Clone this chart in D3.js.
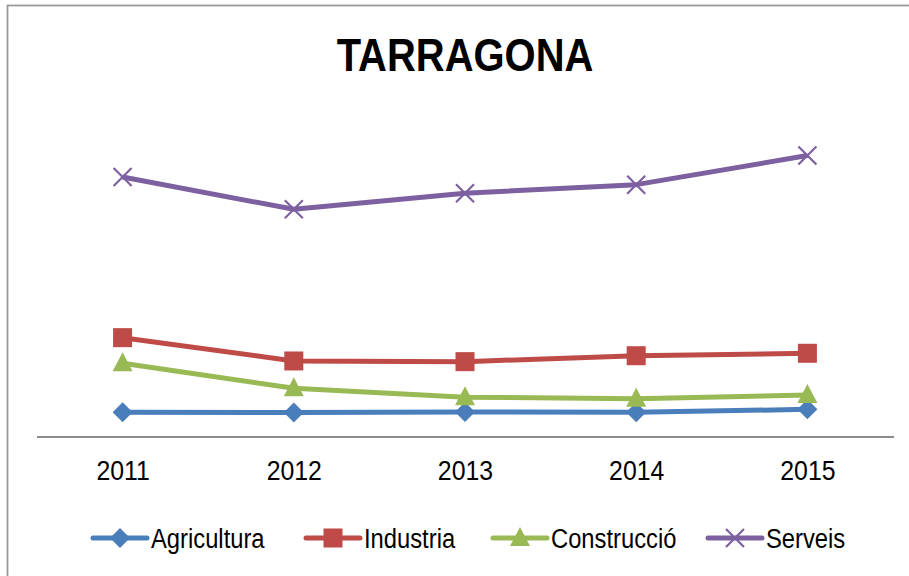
<!DOCTYPE html>
<html>
<head>
<meta charset="utf-8">
<script src="https://cdn.jsdelivr.net/npm/d3@7"></script>
<style>
  body { margin: 0; background: #fff; }
  text { font-family: "Liberation Sans Narrow", "Arial Narrow", "Liberation Sans", sans-serif; }
</style>
</head>
<body>
<div id="chart"></div>
<script>
const years = ["2011", "2012", "2013", "2014", "2015"];
const agricultura = [18.3, 18.1, 18.6, 18.3, 20.5];
const industria = [73.7, 56.4, 55.9, 60.3, 62.1];
const construccio = [54.7, 36.1, 29.5, 28.4, 31.2];
const serveis = [192.9, 168.9, 180.8, 187.2, 208.8];

const series = [
    { name: "Agricultura", values: agricultura, color: "#4A7EBB", symbol: "diamond" },
    { name: "Industria", values: industria, color: "#BE4B48", symbol: "square" },
    { name: "Construcció", values: construccio, color: "#98B954", symbol: "triangle" },
    { name: "Serveis", values: serveis, color: "#7D60A0", symbol: "cross" }
];

const width = 909,
    height = 576,
    margin = { top: 100, right: 16, bottom: 139, left: 37 };

const svg = d3.select("#chart").append("svg")
    .attr("width", width)
    .attr("height", height);

// squeeze text horizontally so it looks like the narrow original font
function squeeze(sel, factor) {
    sel.each(function() {
        const w = this.getComputedTextLength();
        d3.select(this)
            .attr("textLength", w * factor)
            .attr("lengthAdjust", "spacingAndGlyphs");
    });
}

// chart frame (runs off the page right and bottom)
svg.append("rect")
    .attr("x", 7.5)
    .attr("y", 5.5)
    .attr("width", 1000)
    .attr("height", 700)
    .attr("fill", "none")
    .attr("stroke", "#9a9a9a")
    .attr("stroke-width", 1.8);

const xScale = d3.scalePoint()
    .domain(years)
    .range([margin.left, width - margin.right])
    .padding(0.5);

const yScale = d3.scaleLinear()
    .domain([0, 250])
    .range([height - margin.bottom, margin.top]);

// Title
svg.append("text")
    .attr("x", 465)
    .attr("y", 71)
    .attr("text-anchor", "middle")
    .style("font-size", "47px")
    .style("font-weight", "bold")
    .text("TARRAGONA")
    .call(squeeze, 0.85);

// x axis
const xAxis = svg.append("g")
    .attr("transform", `translate(0,${yScale(0)})`)
    .call(d3.axisBottom(xScale).tickSize(0).tickPadding(24));
xAxis.select(".domain")
    .attr("d", `M${margin.left},0H${width - margin.right + 1}`)
    .attr("stroke", "#8c8c8c")
    .attr("stroke-width", 2);
xAxis.selectAll("text")
    .attr("fill", "#000")
    .style("font-size", "27px")
    .call(squeeze, 0.92);

function marker(g, symbol, color, cx, cy) {
    if (symbol === "diamond") {
        g.append("path")
            .attr("d", `M${cx},${cy - 10}L${cx + 10},${cy}L${cx},${cy + 10}L${cx - 10},${cy}Z`)
            .attr("fill", color);
    } else if (symbol === "square") {
        g.append("rect")
            .attr("x", cx - 9.5).attr("y", cy - 9.5)
            .attr("width", 19).attr("height", 19)
            .attr("fill", color);
    } else if (symbol === "triangle") {
        g.append("path")
            .attr("d", `M${cx},${cy - 11}L${cx + 10},${cy + 8}L${cx - 10},${cy + 8}Z`)
            .attr("fill", color);
    } else {
        g.append("path")
            .attr("d", `M${cx - 9},${cy - 9}L${cx + 9},${cy + 9}M${cx - 9},${cy + 9}L${cx + 9},${cy - 9}`)
            .attr("stroke", color)
            .attr("stroke-width", 2.2);
    }
}

const line = d3.line()
    .x((d, i) => xScale(years[i]))
    .y(d => yScale(d));

series.forEach(s => {
    const g = svg.append("g");
    g.append("path")
        .datum(s.values)
        .attr("fill", "none")
        .attr("stroke", s.color)
        .attr("stroke-width", 5)
        .attr("stroke-linejoin", "round")
        .attr("d", line);
    s.values.forEach((v, i) => marker(g, s.symbol, s.color, xScale(years[i]), yScale(v)));
});

// Legend
const legendX = [93, 306, 493, 708];
const legend = svg.append("g");
series.forEach((s, i) => {
    const x0 = legendX[i], y0 = 538;
    legend.append("line")
        .attr("x1", x0).attr("x2", x0 + 54)
        .attr("y1", y0).attr("y2", y0)
        .attr("stroke", s.color)
        .attr("stroke-width", 5)
        .attr("stroke-linecap", "round");
    marker(legend, s.symbol, s.color, x0 + 27, y0);
    legend.append("text")
        .attr("x", x0 + 58)
        .attr("y", y0 + 10)
        .style("font-size", "27px")
        .text(s.name)
        .call(squeeze, 0.88);
});
</script>
</body>
</html>
